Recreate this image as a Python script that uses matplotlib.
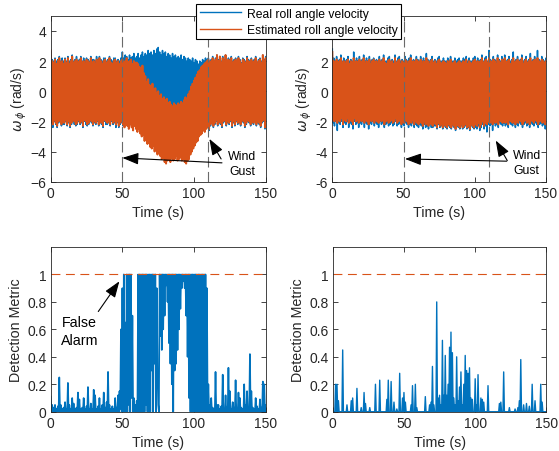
import numpy as np
import matplotlib
matplotlib.use('Agg')
import matplotlib.pyplot as plt
from matplotlib.lines import Line2D

plt.rcParams['font.family'] = ['Liberation Sans', 'DejaVu Sans']
plt.rcParams['mathtext.fontset'] = 'dejavusans'

BLUE = '#0072BD'
ORANGE = '#D95319'
DARK = '#262626'

# time axis, 1 s steps (each value = band extreme read at that second)
t = np.arange(0, 151)

# --- top left: wind gust, estimator without compensation ---
real_hi_L = [2.6, 2.1, 2.0, 2.2, 2.0, 2.1, 2.3, 2.0, 2.2, 2.0,
             2.2, 2.0, 2.3, 2.0, 2.1, 2.4, 2.0, 2.1, 2.3, 2.0,
             2.1, 2.3, 2.0, 2.2, 2.0, 2.2, 2.1, 2.0, 2.3, 2.1,
             2.1, 2.0, 2.3, 2.1, 2.3, 2.1, 2.0, 2.2, 2.2, 2.0,
             2.1, 2.3, 2.1, 2.0, 2.2, 2.2, 2.0, 2.1, 2.0, 2.2,
             2.6, 2.2, 2.4, 2.3, 2.1, 2.4, 2.2, 2.3, 2.5, 2.2,
             2.3, 2.5, 2.2, 2.4, 2.6, 2.3, 2.5, 2.4, 2.7, 2.5,
             2.6, 2.4, 2.7, 2.5, 2.8, 2.9, 2.6, 2.4, 2.7, 2.5,
             2.6, 2.3, 2.5, 2.4, 2.2, 2.5, 2.3, 2.4, 2.2, 2.3,
             2.2, 2.4, 2.1, 2.3, 2.2, 2.0, 2.2, 2.1, 2.0, 2.2,
             1.9, 2.1, 2.0, 1.8, 2.0, 1.9, 2.1, 2.0, 2.2, 2.1,
             2.2, 2.0, 2.1, 2.3, 2.0, 2.2, 2.4, 2.1, 2.3, 2.0,
             2.3, 2.1, 2.4, 2.0, 2.2, 2.1, 2.3, 2.0, 2.1, 2.2,
             2.0, 2.3, 2.1, 1.9, 2.2, 2.1, 2.0, 2.3, 2.1, 2.0,
             2.2, 2.0, 2.1, 2.3, 1.9, 2.1, 2.2, 2.0, 2.4, 2.1,
             2.3]
real_lo_L = [-2.1, -2.4, -2.0, -2.2, -2.4, -2.1, -2.0, -2.3, -2.2, -2.2,
             -2.0, -2.3, -2.1, -2.4, -2.2, -2.0, -2.2, -2.3, -2.2, -2.0,
             -2.2, -2.1, -2.4, -2.0, -2.2, -2.3, -2.2, -2.0, -2.1, -2.3,
             -2.1, -2.2, -2.0, -2.3, -2.1, -2.2, -2.4, -2.0, -2.2, -2.2,
             -2.1, -2.3, -2.0, -2.2, -2.1, -2.4, -2.1, -2.4, -2.2, -2.1,
             -2.3, -2.2, -2.0, -2.1, -2.2, -2.0, -2.1, -2.2, -2.0, -2.1,
             -2.0, -2.1, -2.0, -1.9, -2.0, -1.8, -1.9, -1.8, -1.7, -1.8,
             -1.7, -1.6, -1.7, -1.5, -1.6, -1.5, -1.6, -1.5, -1.4, -1.5,
             -1.4, -1.5, -1.3, -1.4, -1.2, -1.3, -1.4, -1.2, -1.3, -1.4,
             -1.3, -1.4, -1.2, -1.3, -1.5, -1.4, -1.6, -1.5, -1.7, -1.6,
             -1.8, -1.7, -1.9, -2.0, -1.9, -2.1, -2.0, -2.2, -2.1, -2.3,
             -2.6, -2.3, -2.1, -2.4, -2.2, -2.0, -2.3, -2.1, -2.2, -2.4,
             -2.1, -2.0, -2.3, -2.1, -2.2, -2.0, -2.4, -2.1, -2.3, -2.0,
             -2.2, -2.1, -2.3, -2.0, -2.1, -2.4, -2.2, -2.0, -2.1, -2.3,
             -2.1, -2.2, -2.0, -2.3, -2.1, -2.2, -2.4, -2.1, -2.0, -2.5,
             -2.1]
est_hi_L = [2.7, 2.0, 1.9, 2.1, 1.8, 2.0, 2.2, 1.9, 2.0, 1.8,
            2.1, 1.9, 2.2, 1.8, 2.0, 2.3, 1.9, 2.0, 2.1, 1.8,
            2.0, 2.2, 1.9, 2.0, 1.8, 2.1, 2.0, 1.9, 2.2, 1.9,
            2.0, 1.8, 2.1, 1.9, 2.2, 2.0, 1.8, 2.0, 2.1, 1.9,
            2.0, 2.2, 1.9, 1.8, 2.0, 2.1, 1.9, 2.0, 1.8, 2.0,
            2.1, 1.9, 2.0, 2.2, 1.9, 2.0, 2.1, 1.8, 2.0, 1.9,
            1.9, 1.8, 1.6, 1.4, 1.7, 1.2, 1.0, 0.6, 0.8, 0.4,
            0.3, 0.5, 0.1, 0.2, -0.1, 0.0, -0.3, -0.2, -0.5, -0.4,
            -0.6, -0.5, -0.8, -0.7, -0.9, -1.0, -0.8, -0.9, -1.0, -0.8,
            -0.9, -0.7, -0.8, -0.6, -0.4, -0.5, -0.2, 0.0, 0.3, 0.5,
            0.7, 0.9, 1.1, 1.3, 1.4, 1.6, 1.7, 1.8, 1.9, 2.0,
            2.1, 1.9, 2.0, 2.2, 1.9, 2.1, 2.4, 2.0, 2.3, 1.9,
            2.2, 2.0, 2.4, 1.9, 2.1, 2.0, 2.2, 1.9, 2.0, 2.1,
            1.9, 2.2, 2.0, 1.8, 2.1, 2.0, 1.9, 2.2, 2.0, 1.9,
            2.1, 1.9, 2.0, 2.2, 1.8, 2.0, 2.1, 1.9, 2.4, 2.0,
            2.2]
est_lo_L = [-2.0, -2.2, -1.9, -2.1, -2.3, -2.0, -1.9, -2.2, -2.0, -2.1,
            -1.9, -2.2, -2.0, -2.3, -2.1, -1.9, -2.0, -2.2, -2.1, -1.9,
            -2.1, -2.0, -2.3, -1.9, -2.0, -2.2, -2.1, -1.9, -2.0, -2.2,
            -2.0, -2.1, -1.9, -2.2, -2.0, -2.1, -2.3, -1.9, -2.0, -2.1,
            -2.0, -2.2, -1.9, -2.1, -2.0, -2.2, -2.0, -2.3, -2.1, -2.0,
            -2.2, -2.4, -2.1, -2.3, -2.5, -2.2, -2.4, -2.6, -2.3, -2.5,
            -2.7, -2.5, -2.8, -3.0, -2.9, -3.3, -3.1, -3.5, -3.4, -3.7,
            -3.8, -3.6, -4.0, -3.9, -4.2, -4.1, -4.3, -4.5, -4.4, -4.7,
            -4.8, -4.6, -4.5, -4.7, -4.4, -4.6, -4.5, -4.3, -4.6, -4.5,
            -4.4, -4.6, -4.5, -4.7, -4.8, -4.6, -4.5, -4.2, -4.0, -3.8,
            -3.6, -3.4, -3.3, -3.0, -2.9, -2.8, -2.6, -2.7, -2.5, -2.4,
            -2.5, -2.2, -2.0, -2.3, -2.1, -1.9, -2.2, -2.0, -2.1, -2.3,
            -2.0, -1.9, -2.2, -2.0, -2.1, -1.9, -2.3, -2.0, -2.2, -1.9,
            -2.1, -2.0, -2.2, -1.9, -2.0, -2.3, -2.1, -1.9, -2.0, -2.2,
            -2.0, -2.1, -1.9, -2.2, -2.0, -2.1, -2.3, -2.0, -1.9, -2.4,
            -2.0]

# --- top right: wind gust, compensated estimator ---
real_hi_R = [2.8, 2.2, 2.0, 2.3, 2.0, 2.1, 2.4, 2.0, 2.2, 2.0,
             2.1, 2.3, 2.0, 2.1, 2.0, 2.6, 2.0, 2.2, 2.0, 2.3,
             2.0, 2.1, 2.4, 2.0, 2.2, 2.0, 2.3, 2.0, 2.1, 2.2,
             2.0, 2.1, 2.0, 2.3, 2.0, 2.1, 2.4, 2.0, 2.0, 2.2,
             2.3, 2.0, 2.1, 2.0, 2.4, 2.0, 2.2, 2.3, 2.0, 2.1,
             2.0, 2.3, 2.1, 2.0, 2.2, 2.4, 2.0, 2.1, 2.0, 2.3,
             2.1, 2.0, 2.3, 2.0, 2.2, 2.0, 2.5, 2.1, 2.0, 2.1,
             2.3, 2.0, 2.1, 2.0, 2.2, 2.3, 2.0, 2.0, 2.2, 2.0,
             2.0, 2.2, 2.0, 2.3, 2.0, 2.0, 2.2, 2.0, 2.1, 2.2,
             2.0, 2.0, 2.2, 2.1, 2.3, 2.0, 2.2, 2.0, 2.0, 2.2,
             2.3, 2.0, 2.2, 2.0, 2.1, 2.4, 2.0, 2.2, 2.3, 2.0,
             2.7, 2.1, 2.0, 2.3, 2.1, 2.0, 2.4, 2.1, 2.0, 2.3,
             2.1, 2.4, 2.0, 2.1, 2.3, 2.0, 2.1, 2.6, 2.0, 2.1,
             2.3, 2.0, 2.1, 2.4, 2.0, 2.1, 2.3, 2.0, 2.1, 2.5,
             2.0, 2.1, 2.3, 2.0, 2.7, 2.1, 2.0, 2.3, 2.1, 2.0,
             2.2]
real_lo_R = [-2.1, -2.3, -2.0, -2.6, -2.1, -2.2, -2.0, -2.4, -2.1, -2.2,
             -2.0, -2.4, -2.1, -2.2, -2.5, -2.0, -2.2, -2.1, -2.4, -2.1,
             -2.2, -2.0, -2.4, -2.1, -2.2, -2.5, -2.1, -2.2, -2.0, -2.3,
             -2.1, -2.2, -2.4, -2.0, -2.2, -2.1, -2.4, -2.2, -2.1, -2.3,
             -2.2, -2.1, -2.3, -2.2, -2.0, -2.3, -2.2, -2.1, -2.4, -2.2,
             -2.3, -2.1, -2.2, -2.4, -2.2, -2.3, -2.1, -2.4, -2.2, -2.3,
             -2.4, -2.2, -2.3, -2.5, -2.2, -2.4, -2.3, -2.5, -2.2, -2.4,
             -2.4, -2.3, -2.3, -2.5, -2.2, -2.4, -2.3, -2.5, -2.3, -2.4,
             -2.5, -2.3, -2.4, -2.5, -2.3, -2.4, -2.6, -2.3, -2.4, -2.5,
             -2.3, -2.5, -2.4, -2.3, -2.5, -2.4, -2.6, -2.3, -2.4, -2.5,
             -2.4, -2.5, -2.3, -2.6, -2.4, -2.2, -2.5, -2.3, -2.7, -2.2,
             -2.3, -2.2, -2.6, -2.1, -2.3, -2.2, -2.4, -2.1, -2.2, -2.3,
             -2.1, -2.3, -2.2, -2.4, -2.1, -2.2, -2.3, -2.1, -2.4, -2.2,
             -2.3, -2.1, -2.2, -2.4, -2.2, -2.1, -2.3, -2.2, -2.4, -2.1,
             -2.2, -2.3, -2.1, -2.2, -2.4, -2.2, -2.1, -2.3, -2.2, -2.5,
             -2.2]
est_hi_R = [2.6, 2.0, 1.9, 2.1, 1.8, 2.0, 2.2, 1.9, 2.0, 1.8,
            2.0, 2.1, 1.8, 2.0, 1.9, 2.2, 1.9, 2.0, 1.8, 2.1,
            1.9, 2.0, 2.2, 1.8, 2.0, 1.9, 2.1, 1.8, 2.0, 2.1,
            1.9, 2.0, 1.8, 2.1, 1.9, 2.0, 2.2, 1.9, 1.8, 2.0,
            2.1, 1.9, 2.0, 1.8, 2.2, 1.9, 2.0, 2.1, 1.8, 2.0,
            1.9, 2.1, 2.0, 1.8, 2.0, 2.2, 1.9, 2.0, 1.8, 2.1,
            2.0, 1.9, 2.1, 1.8, 2.0, 1.9, 2.2, 2.0, 1.8, 2.0,
            2.1, 1.9, 2.0, 1.8, 2.0, 2.1, 1.9, 1.8, 2.0, 1.9,
            1.8, 2.0, 1.9, 2.1, 1.8, 1.9, 2.0, 1.8, 1.9, 2.0,
            1.9, 1.8, 2.0, 1.9, 2.1, 1.8, 2.0, 1.9, 1.8, 2.0,
            2.1, 1.9, 2.0, 1.8, 2.0, 2.2, 1.9, 2.0, 2.1, 1.9,
            2.2, 2.0, 1.9, 2.1, 2.0, 1.8, 2.2, 2.0, 1.9, 2.1,
            2.0, 2.2, 1.9, 2.0, 2.1, 1.8, 2.0, 2.2, 1.9, 2.0,
            2.1, 1.9, 2.0, 2.2, 1.8, 2.0, 2.1, 1.9, 2.0, 2.2,
            1.9, 2.0, 2.1, 1.8, 2.2, 2.0, 1.9, 2.1, 2.0, 1.9,
            2.0]
est_lo_R = [-1.9, -2.0, -1.8, -2.1, -1.9, -2.0, -1.8, -2.2, -1.9, -2.0,
            -1.8, -2.1, -1.9, -2.0, -2.2, -1.8, -2.0, -1.9, -2.1, -1.9,
            -2.0, -1.8, -2.1, -1.9, -2.0, -2.2, -1.9, -2.0, -1.8, -2.1,
            -1.9, -2.0, -2.1, -1.8, -2.0, -1.9, -2.2, -2.0, -1.9, -2.1,
            -2.0, -1.9, -2.1, -2.0, -1.8, -2.1, -2.0, -1.9, -2.2, -2.0,
            -2.1, -1.9, -2.0, -2.2, -2.0, -2.1, -1.9, -2.2, -2.0, -2.1,
            -2.2, -2.0, -2.1, -2.3, -2.0, -2.2, -2.1, -2.3, -2.0, -2.2,
            -2.3, -2.1, -2.2, -2.4, -2.1, -2.3, -2.2, -2.4, -2.2, -2.3,
            -2.4, -2.2, -2.3, -2.4, -2.2, -2.3, -2.5, -2.2, -2.3, -2.4,
            -2.2, -2.4, -2.3, -2.2, -2.4, -2.3, -2.5, -2.2, -2.3, -2.4,
            -2.2, -2.3, -2.1, -2.4, -2.2, -2.0, -2.3, -2.1, -2.2, -2.0,
            -2.1, -2.0, -2.2, -1.9, -2.1, -2.0, -2.2, -1.9, -2.0, -2.1,
            -1.9, -2.1, -2.0, -2.2, -1.9, -2.0, -2.1, -1.9, -2.2, -2.0,
            -2.1, -1.9, -2.0, -2.2, -2.0, -1.9, -2.1, -2.0, -2.2, -1.9,
            -2.0, -2.1, -1.9, -2.0, -2.2, -2.0, -1.9, -2.1, -2.0, -2.2,
            -2.0]

# --- bottom left: detection metric without compensation ---
metric_hi_L = [0.11, 0.05, 0.03, 0.05, 0.02, 0.04, 0.25, 0.05, 0.02, 0.03,
               0.07, 0.02, 0.21, 0.05, 0.02, 0.10, 0.06, 0.02, 0.03, 0.14,
               0.09, 0.02, 0.03, 0.10, 0.02, 0.04, 0.18, 0.02, 0.06, 0.02,
               0.16, 0.12, 0.02, 0.04, 0.10, 0.02, 0.05, 0.14, 0.03, 0.07,
               0.29, 0.05, 0.02, 0.04, 0.02, 0.10, 0.03, 0.12, 0.15, 0.60,
               0.90, 1.00, 0.65, 1.00, 1.00, 1.00, 1.00, 0.70, 0.10, 0.05,
               0.08, 1.00, 1.00, 1.00, 1.00, 1.00, 1.00, 1.00, 1.00, 1.00,
               1.00, 1.00, 1.00, 1.00, 0.90, 0.05, 1.00, 1.00, 1.00, 1.00,
               1.00, 1.00, 1.00, 1.00, 1.00, 1.00, 1.00, 1.00, 1.00, 1.00,
               1.00, 1.00, 1.00, 1.00, 1.00, 1.00, 1.00, 1.00, 1.00, 1.00,
               1.00, 1.00, 1.00, 1.00, 1.00, 1.00, 1.00, 1.00, 1.00, 0.90,
               0.20, 0.05, 0.10, 0.03, 0.02, 0.29, 0.05, 0.05, 0.02, 0.04,
               0.27, 0.02, 0.12, 0.03, 0.32, 0.15, 0.02, 0.07, 0.03, 0.23,
               0.02, 0.14, 0.10, 0.03, 0.02, 0.20, 0.05, 0.15, 0.02, 0.42,
               0.15, 0.03, 0.02, 0.10, 0.04, 0.02, 0.09, 0.03, 0.22, 0.20,
               0.05]
metric_lo_L = [0.0] * 48 + [
    0.02, 0.0, 0.0, 0.0, 0.0, 0.0, 0.05, 0.0, 0.10, 0.0,
    0.0, 0.0, 0.0, 0.0, 0.0, 0.0, 0.0, 0.0, 0.05, 0.0,
    0.0, 0.0, 0.30, 0.0, 0.35, 0.0, 0.30, 0.0, 0.55, 0.45,
    0.60, 0.70, 0.92, 0.80, 0.50, 0.35, 0.20, 0.0, 0.30, 0.35,
    0.45, 0.60, 0.75, 0.90, 0.95, 0.90, 0.70, 0.40, 0.10, 0.0,
    0.0, 0.0, 0.0, 0.0, 0.0, 0.0, 0.0, 0.0, 0.0, 0.0,
    0.0, 0.0, 0.0] + [0.0] * 40

# --- bottom right: detection metric, compensated ---
metric_R = [0.0, 0.0, 0.20, 0.20, 0.08, 0.0, 0.0, 0.45, 0.0, 0.0,
            0.05, 0.0, 0.0, 0.08, 0.10, 0.0, 0.0, 0.17, 0.0, 0.0,
            0.03, 0.0, 0.14, 0.06, 0.0, 0.0, 0.03, 0.0, 0.0, 0.0,
            0.20, 0.0, 0.0, 0.23, 0.0, 0.0, 0.0, 0.0, 0.09, 0.23,
            0.0, 0.22, 0.0, 0.07, 0.0, 0.02, 0.0, 0.28, 0.0, 0.10,
            0.14, 0.07, 0.0, 0.0, 0.0, 0.05, 0.19, 0.0, 0.20, 0.03,
            0.0, 0.0, 0.0, 0.0, 0.0, 0.11, 0.0, 0.0, 0.05, 0.07,
            0.33, 0.05, 0.0, 0.80, 0.10, 0.12, 0.05, 0.52, 0.12, 0.41,
            0.12, 0.20, 0.47, 0.58, 0.43, 0.10, 0.05, 0.40, 0.08, 0.18,
            0.29, 0.05, 0.20, 0.41, 0.30, 0.28, 0.32, 0.10, 0.09, 0.0,
            0.24, 0.05, 0.27, 0.0, 0.10, 0.09, 0.07, 0.0, 0.0, 0.19,
            0.0, 0.0, 0.0, 0.0, 0.0, 0.0, 0.0, 0.06, 0.07, 0.0,
            0.29, 0.0, 0.0, 0.0, 0.03, 0.0, 0.0, 0.0, 0.02, 0.0,
            0.03, 0.08, 0.38, 0.0, 0.05, 0.0, 0.06, 0.0, 0.04, 0.0,
            0.20, 0.0, 0.08, 0.0, 0.0, 0.0, 0.20, 0.07, 0.0, 0.0,
            0.0]

gust_start, gust_end = 50, 110
threshold = 1.0


def band(hi, lo):
    # signal swings between the read extremes: high at t, low half a second later
    xs = np.column_stack([t, t + 0.5]).ravel()
    ys = np.column_stack([hi, lo]).ravel()
    return xs, ys


def style(ax, yticks, ylim):
    ax.set_xlim(0, 150)
    ax.set_ylim(*ylim)
    ax.set_xticks([0, 50, 100, 150])
    ax.set_yticks(yticks)
    ax.tick_params(direction='in', top=True, right=True, length=3.5,
                   width=0.6, colors=DARK, labelsize=10, pad=3)
    for s in ax.spines.values():
        s.set_color(DARK)
        s.set_linewidth(0.6)
    ax.set_xlabel('Time (s)', fontsize=10.3, color=DARK, labelpad=4)


fig = plt.figure(figsize=(5.59, 4.52), dpi=100)
ax1 = fig.add_axes([0.0907, 0.5958, 0.3846, 0.367])
ax2 = fig.add_axes([0.5945, 0.5958, 0.3823, 0.367])
ax3 = fig.add_axes([0.0907, 0.0869, 0.3846, 0.3644])
ax4 = fig.add_axes([0.5952, 0.0869, 0.3823, 0.3644])

arrow = dict(arrowstyle='-|>,head_length=0.55,head_width=0.2', color='k',
             lw=0.8, mutation_scale=18, shrinkA=0, shrinkB=0)

for ax, rh, rl, eh, el, txt, a1, a2 in [
        (ax1, real_hi_L, real_lo_L, est_hi_L, est_lo_L, (133.5, -4.8),
         ((50, -4.42), (119.5, -4.75)), ((110.7, -3.16), (118.9, -4.49))),
        (ax2, real_hi_R, real_lo_R, est_hi_R, est_lo_R, (136.5, -4.7),
         ((51, -4.49), (122.4, -4.64)), ((114.7, -3.27), (122.8, -4.6)))]:
    x, y = band(rh, rl)
    ax.plot(x, y, color=BLUE, lw=1.1)
    x, y = band(eh, el)
    ax.plot(x, y, color=ORANGE, lw=1.4)
    for g in (gust_start, gust_end):
        ax.axvline(g, color='#6a6a6a', lw=0.8, ls=(0, (9.5, 4)), zorder=5)
    style(ax, [-6, -4, -2, 0, 2, 4], (-6, 5))
    ax.set_ylabel(r'$\omega_{\,\phi}$ (rad/s)', fontsize=10, color=DARK, labelpad=1)
    ax.text(txt[0], txt[1], 'Wind\nGust', fontsize=8.8, ha='center',
            va='center', linespacing=1.35, color='k', zorder=6)
    ax.annotate('', xy=a1[0], xytext=a1[1], arrowprops=arrow, zorder=6)
    ax.annotate('', xy=a2[0], xytext=a2[1], arrowprops=arrow, zorder=6)

# the legend hides the "4" label of the right panel
ax2.set_yticklabels(['-6', '-4', '-2', '0', '2', ''])

x, y = band(metric_hi_L, metric_lo_L)
ax3.plot(x, y, color=BLUE, lw=1.2)
x, y = band(metric_R, [0.0] * len(metric_R))
ax4.plot(x, y, color=BLUE, lw=1.0)
for ax in (ax3, ax4):
    ax.axhline(threshold, color=ORANGE, lw=0.8, ls=(0, (8, 5)))
    style(ax, [0, 0.2, 0.4, 0.6, 0.8, 1], (0, 1.2))
    ax.set_yticklabels(['0', '0.2', '0.4', '0.6', '0.8', '1'])
    ax.set_ylabel('Detection Metric', fontsize=10.3, color=DARK, labelpad=3)

ax3.text(20, 0.59, 'False\nAlarm', fontsize=10.3, ha='center', va='center',
         linespacing=1.35, color='k')
ax3.annotate('', xy=(47.9, 0.95), xytext=(33.2, 0.73), arrowprops=arrow)

handles = [Line2D([], [], color=BLUE, lw=1.0), Line2D([], [], color=ORANGE, lw=1.0)]
leg = fig.legend(handles, ['Real roll angle velocity', 'Estimated roll angle velocity'],
                 loc='upper left', bbox_to_anchor=(196 / 559, 1 - 5 / 452),
                 borderaxespad=0, fontsize=8.7, frameon=True, fancybox=False,
                 edgecolor='k', framealpha=1, handlelength=3.4,
                 handletextpad=0.5, labelspacing=0.35, borderpad=0.3)
leg.get_frame().set_linewidth(0.8)

fig.savefig('out.png', dpi=100)
